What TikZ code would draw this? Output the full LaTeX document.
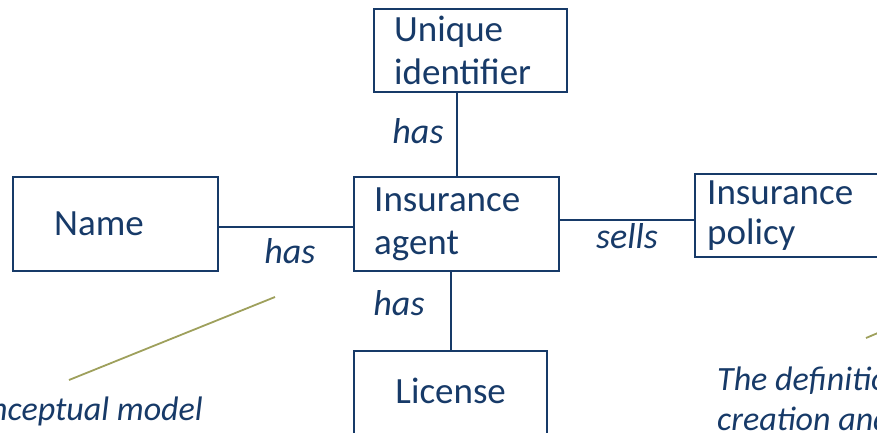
\documentclass[tikz,border=0pt]{standalone}
\usepackage{fontspec}
\setmainfont{Carlito}
\usetikzlibrary{positioning}
\definecolor{navy}{HTML}{173A68}
\definecolor{olive}{HTML}{9EA05C}

\begin{document}
\begin{tikzpicture}[x=1pt,y=-1pt,
  box/.style={draw=navy,line width=2.4pt,text=navy,anchor=north west,align=left,
              font=\fontsize{37}{43}\selectfont,inner ysep=0pt},
  rel/.style={text=navy,font=\fontsize{36}{43}\selectfont\itshape,inner sep=0pt},
  note/.style={text=navy,font=\fontsize{34}{40}\selectfont\itshape,inner sep=0pt},
  link/.style={draw=navy,line width=2.4pt},
  lead/.style={draw=olive,line width=1.8pt}]
\clip (0,0) rectangle (877,433);
% entities
\node[box,text width=153pt,inner xsep=20pt,minimum height=83pt] (uid) at (373,8)
  {Unique\\identifier};
\node[box,text width=165pt,inner xsep=20pt,minimum height=94pt] (agent) at (353,176)
  {Insurance\\agent};
\node[box,text width=123pt,inner xsep=41pt,minimum height=94pt] (name) at (12,176)
  {Name};
\node[box,text width=186pt,inner xsep=12pt,minimum height=83pt,
      font=\fontsize{37}{40}\selectfont] (policy) at (694,173)
  {Insurance\\policy};
\node[box,text width=193pt,inner xsep=0pt,align=center,minimum height=88pt,
      text depth=9pt] (license) at (353,350) {License};
% relationships
\draw[link] (agent.north) -- (agent.north |- uid.south);
\draw[link] ([yshift=-3pt]name.east) -- ([yshift=-3pt]agent.west);
\draw[link] ([yshift=4pt]agent.east) -- ([yshift=4pt]agent.east -| policy.west);
\draw[link] (license.north) -- (license.north |- agent.south);
\node[rel] (hasid) at (418,131) {has};
\node[rel] (hasname) at (290,251) {has};
\node[rel] (sells) at (627,236) {sells};
\node[rel] (haslic) at (399,303) {has};
% callouts
\draw[lead] (69,380) -- (275,297);
\draw[lead] (866,338) -- (892,327);
\node[note,anchor=base east] (concept) at (203,420) {Conceptual model};
\node[note,anchor=base west] (defn) at (717,390) {The definition};
\node[note,anchor=base west] (defn2) at (717,430) {creation and};
\end{tikzpicture}
\end{document}
